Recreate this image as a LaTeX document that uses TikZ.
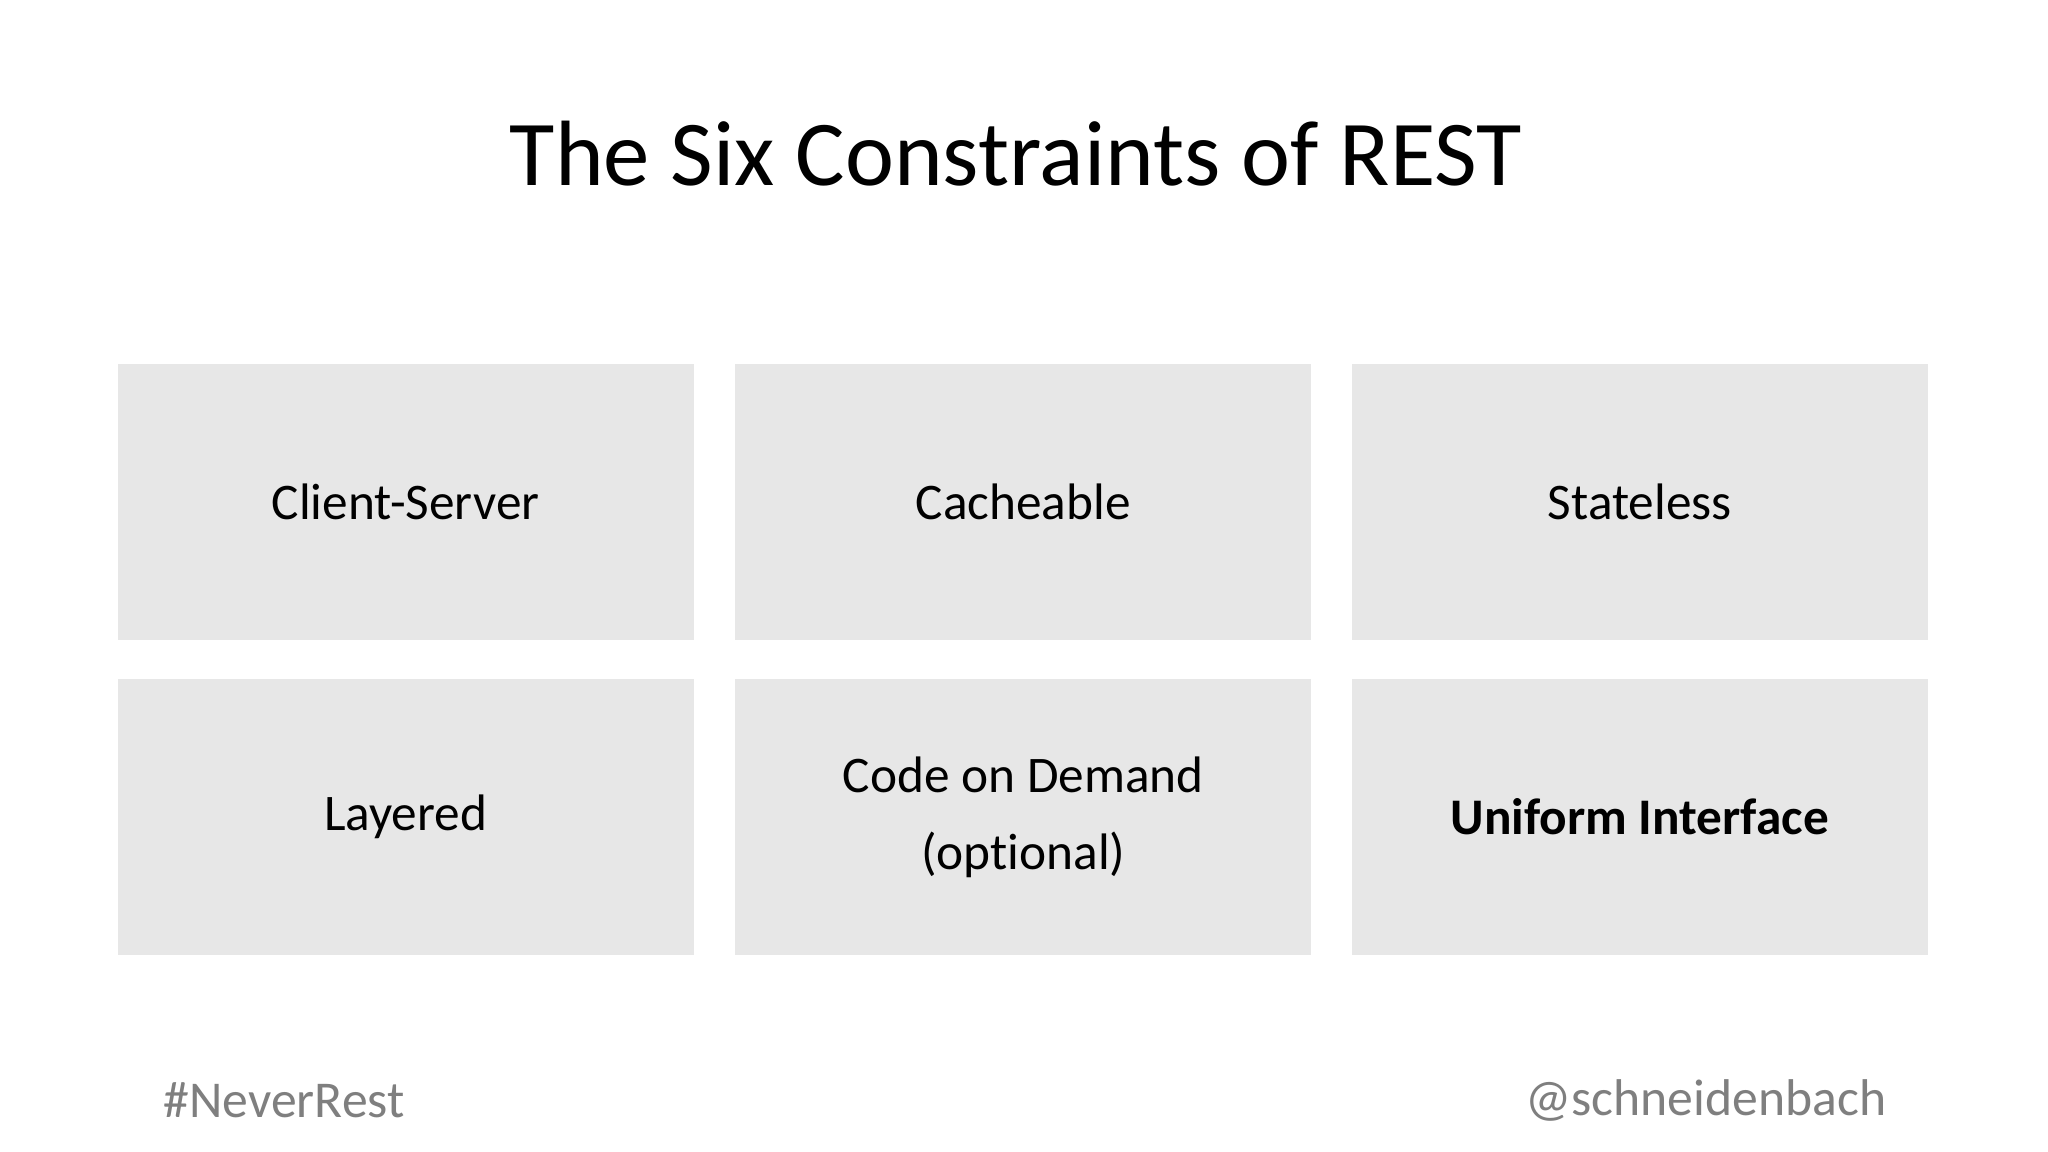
\documentclass[tikz,border=0pt]{standalone}
\usepackage{fontspec}
\setmainfont[RawFeature=-liga]{Carlito}
\begin{document}
\begin{tikzpicture}[x=0.1mm,y=-0.1mm,
  cbox/.style={fill=boxgray,draw=none,minimum width=576mm/10,minimum height=275.6mm/10,inner sep=0pt,align=center,font=\fontsize{14.6}{22}\selectfont},
  foot/.style={text=footgray,font=\fontsize{14.7}{18}\selectfont,inner sep=0pt}]
\definecolor{boxgray}{HTML}{E7E7E7}
\definecolor{footgray}{HTML}{7F7F7F}
\fill[white] (0,0) rectangle (2048,1152);
\useasboundingbox (0,0) rectangle (2048,1152);
\node[font=\fontsize{26.4}{32}\selectfont] (title) at (1016,154) {The Six Constraints of REST};
\node[cbox] (cs) at (405.6,502.2) {Client-Server};
\node[cbox] (ca) at (1023.3,502.2) {Cacheable};
\node[cbox] (st) at (1639.8,502.2) {Stateless};
\node[cbox] (la) at (405.6,817) {Layered};
\node[cbox] (cd) at (1023.3,817) {Code on Demand\\(optional)};
\node[cbox] (ui) at (1639.8,817) {\bfseries Uniform Interface};
\node[foot,anchor=west] (nr) at (163,1100) {\#NeverRest};
\node[foot,anchor=east] (sb) at (1887,1100) {@schneidenbach};
\end{tikzpicture}
\end{document}
